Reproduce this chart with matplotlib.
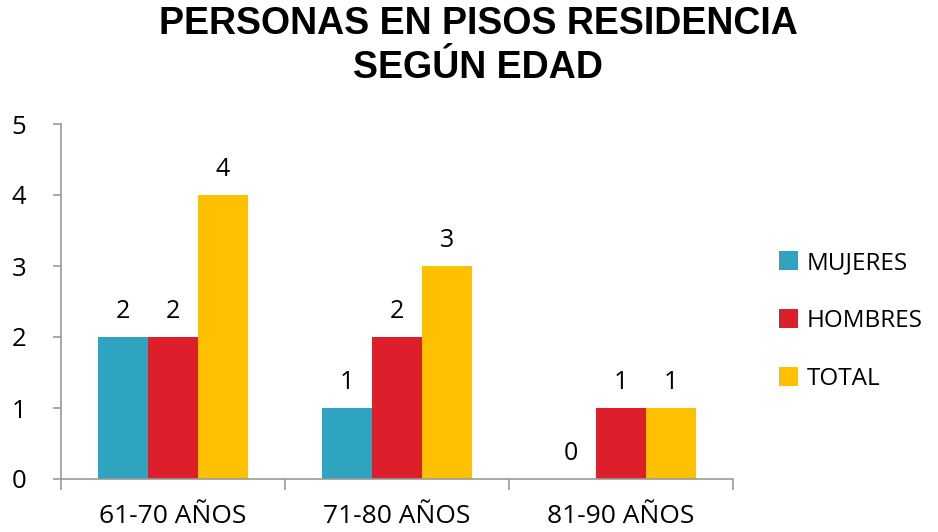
import matplotlib
matplotlib.use("Agg")
import matplotlib.pyplot as plt
import numpy as np

categories = ["61-70 AÑOS", "71-80 AÑOS", "81-90 AÑOS"]
series_names = ["MUJERES", "HOMBRES", "TOTAL"]
mujeres = [2, 1, 0]
hombres = [2, 2, 1]
total = [4, 3, 1]
colors = ["#2EA4C1", "#DC1F2B", "#FFC000"]
title = "PERSONAS EN PISOS RESIDENCIA\nSEGÚN EDAD"

fig = plt.figure(figsize=(9.38, 5.32), dpi=100)
ax = fig.add_axes([61/938, 53/532, (733-61)/938, (479-124)/532])

x = np.arange(len(categories))
w = 50/224
for i, (vals, name, c) in enumerate(zip([mujeres, hombres, total], series_names, colors)):
    pos = x + (i - 1) * w
    ax.bar(pos, vals, width=w, color=c, label=name)
    for p, v in zip(pos, vals):
        ax.text(p, v + 0.19, str(v), ha="center", va="bottom", fontsize=18,
                family="Open Sans", color="black")

ax.set_xlim(-0.5, 2.5)
ax.set_ylim(0, 5)
ax.set_yticks(range(6))
ax.set_yticklabels([str(i) for i in range(6)], fontsize=18.5, family="Open Sans")
ax.set_xticks(np.arange(-0.5, 2.6, 1))
ax.set_xticklabels([])
ax.set_xticks(x, minor=True)
ax.set_xticklabels(categories, minor=True, fontsize=19, family="Open Sans")
ax.tick_params(axis="x", which="minor", length=0, pad=18)
ax.tick_params(axis="x", which="major", length=8, color="#999999", width=1.2)
ax.tick_params(axis="y", length=6, color="#999999", width=1.2, pad=19)
for s in ["top", "right"]:
    ax.spines[s].set_visible(False)
for s in ["left", "bottom"]:
    ax.spines[s].set_color("#999999")
    ax.spines[s].set_linewidth(1.2)

fig.text(478/938, 1 - 46/532, title, ha="center", va="center", fontsize=27,
         fontweight="bold", family="Liberation Sans", linespacing=1.25)

fig.legend(loc="center left", bbox_to_anchor=(757/938, 1 - 321/532),
           frameon=False, prop={"family": "Open Sans", "size": 17.5},
           handlelength=0.8, handleheight=0.8, handletextpad=0.35,
           labelspacing=1.4)

fig.savefig("out.png", dpi=100)
